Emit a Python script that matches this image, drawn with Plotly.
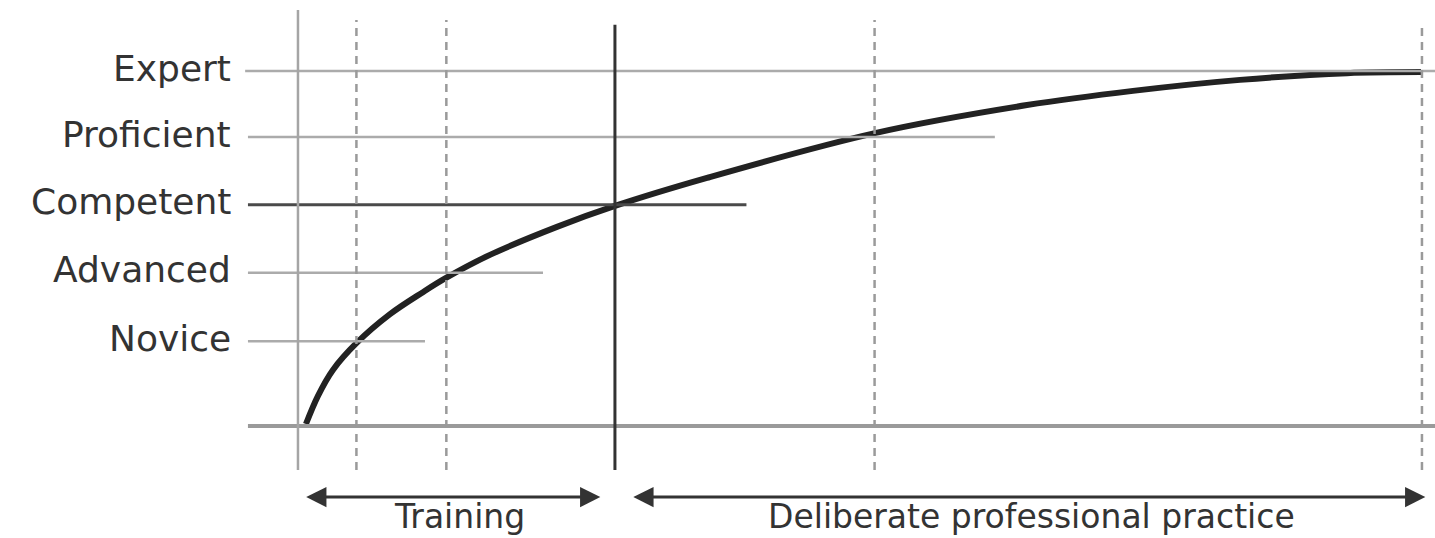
import plotly.graph_objects as go

# ---- data ----
levels = ["Novice", "Advanced", "Competent", "Proficient", "Expert"]
level_values = [23.9, 43.2, 62.3, 81.4, 100.0]          # skill (% of expert)
level_line_end = [11.3, 21.8, 39.9, 62.0, 101.2]         # time where each level line stops

curve_time = [0.71, 1.78, 3.11, 5.22, 8.19, 11.12, 13.17, 17.08, 23.04,
              28.20, 36.39, 51.33, 64.86, 74.29, 83.81, 93.33, 99.91]
curve_skill = [0.56, 8.5, 15.8, 23.4, 31.5, 37.7, 41.7, 48.2, 56.1,
               62.0, 69.9, 82.5, 90.4, 94.4, 97.5, 99.4, 99.7]

dashed_marks = [5.2, 13.2, 51.3, 100.0]
training_end = 28.2

phases = ["Training", "Deliberate professional practice"]
phase_start = [0.6, 29.7]
phase_end = [26.9, 100.3]

# ---- figure ----
X_RANGE = [-26.51, 101.16]
Y_RANGE = [-31.55, 120.0]
LINE_LEFT = -4.45
FONT = "DejaVu Sans"
TXT = "#333333"

fig = go.Figure()
shapes = []

# level lines
for lv, val, end in zip(levels, level_values, level_line_end):
    dark = lv == "Competent"
    shapes.append(dict(type="line", xref="x", yref="y",
                       x0=LINE_LEFT - (0.25 if lv == "Expert" else 0), x1=end, y0=val, y1=val,
                       line=dict(color="#4a4a4a" if dark else "#ababab",
                                 width=3 if dark else 2.5)))
# baseline
shapes.append(dict(type="line", xref="x", yref="y", x0=LINE_LEFT, x1=X_RANGE[1],
                   y0=0, y1=0, line=dict(color="#9a9a9a", width=4)))
# left axis line
shapes.append(dict(type="line", xref="x", yref="y", x0=0, x1=0, y0=-12.4, y1=117.2,
                   line=dict(color="#a5a5a5", width=2.5)))
# dashed stage markers
for t in dashed_marks:
    top = 113.0 if t >= 100 else 114.4
    shapes.append(dict(type="line", xref="x", yref="y", x0=t, x1=t, y0=-12.4, y1=top,
                       line=dict(color="#9a9a9a", width=2.5, dash="8px,6px")))
# end of training
shapes.append(dict(type="line", xref="x", yref="y", x0=training_end, x1=training_end,
                   y0=-12.4, y1=113.0, line=dict(color="#333333", width=3)))

fig.add_trace(go.Scatter(x=curve_time, y=curve_skill, mode="lines",
                         line=dict(color="#222222", width=6, shape="spline", smoothing=1.0),
                         hoverinfo="skip", showlegend=False))

annotations = []
for lv, val in zip(levels, level_values):
    annotations.append(dict(x=-5.8, y=val, xref="x", yref="y", text=lv, showarrow=False,
                            xanchor="right", yanchor="middle", yshift=3,
                            font=dict(family=FONT, size=36, color=TXT)))

ARROW_Y = -20.0
LABEL_Y = -25.4
for name, s, e in zip(phases, phase_start, phase_end):
    annotations.append(dict(x=e, y=ARROW_Y, ax=s, ay=ARROW_Y, xref="x", yref="y",
                            axref="x", ayref="y", text="", showarrow=True,
                            arrowhead=2, arrowside="end+start", arrowsize=1.35,
                            arrowwidth=3, arrowcolor="#333333"))
    annotations.append(dict(x=(s + e) / 2 + (0.6 if name == "Training" else 0.3), y=LABEL_Y,
                            xref="x", yref="y", text=name, showarrow=False,
                            xanchor="center", yanchor="middle",
                            font=dict(family=FONT, size=33, color=TXT)))

fig.update_layout(
    width=1435, height=538, autosize=False,
    margin=dict(l=0, r=0, t=0, b=0),
    paper_bgcolor="white", plot_bgcolor="white",
    xaxis=dict(range=X_RANGE, visible=False, fixedrange=True),
    yaxis=dict(range=Y_RANGE, visible=False, fixedrange=True),
    shapes=shapes, annotations=annotations, showlegend=False,
)

fig.write_html("out.html", config={"displayModeBar": False},
               post_script="document.body.style.margin='0';document.body.style.overflow='hidden';")
